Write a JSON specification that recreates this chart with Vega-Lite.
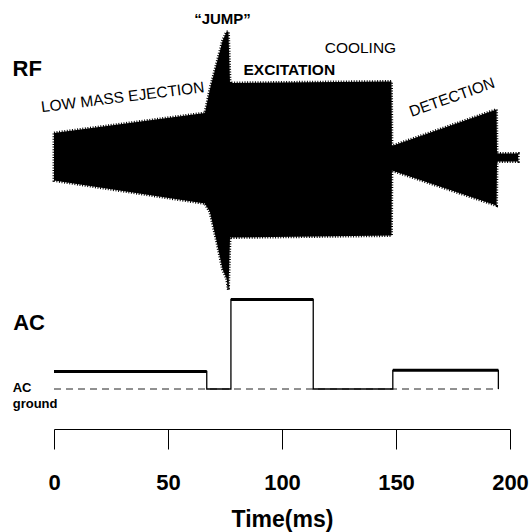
{
  "$schema": "https://vega.github.io/schema/vega-lite/v6.json",
  "width": 456,
  "height": 429,
  "autosize": {"type": "none"},
  "padding": {"left": 54, "top": 0, "right": 21, "bottom": 103},
  "background": "white",
  "config": {
    "view": {"stroke": null},
    "font": "Liberation Sans",
    "axis": {"grid": false},
    "axisX": {
      "domainColor": "black", "domainWidth": 1, "tickColor": "black", "tickSize": 20, "tickWidth": 1,
      "labelFont": "Liberation Sans", "labelFontSize": 22, "labelFontWeight": "bold", "labelColor": "black",
      "labelPadding": 23, "labelFlush": false, "labelOverlap": false,
      "titleFont": "Liberation Sans", "titleFontSize": 23, "titleFontWeight": "bold", "titleColor": "black",
      "titleBaseline": "alphabetic", "titleY": 97, "titlePadding": 0
    }
  },
  "resolve": {"scale": {"y": "independent"}},
  "layer": [
    {
      "layer": [
        {
          "data": {"values": [
            {"t": 0, "hi": 2.55, "lo": -2.2},
            {"t": 66.2, "hi": 4.55, "lo": -4.5},
            {"t": 68.4, "hi": 6.95, "lo": -5.35},
            {"t": 71.4, "hi": 9.55, "lo": -8.35},
            {"t": 73.9, "hi": 11.75, "lo": -11.05},
            {"t": 75.7, "hi": 12.68, "lo": -12.0},
            {"t": 76.5, "hi": 12.68, "lo": -13.15},
            {"t": 77.2, "hi": 7.55, "lo": -7.9},
            {"t": 148.0, "hi": 7.7, "lo": -7.7},
            {"t": 148.2, "hi": 1.25, "lo": -1.2},
            {"t": 194.1, "hi": 4.9, "lo": -4.7},
            {"t": 194.3, "hi": 0.5, "lo": -0.3},
            {"t": 203.6, "hi": 0.5, "lo": -0.3}
          ]},
          "mark": {"type": "area", "color": "black", "opacity": 1, "interpolate": "linear", "stroke": "black", "strokeWidth": 3, "strokeDash": [1, 1.6]},
          "encoding": {
            "x": {"field": "t", "type": "quantitative", "scale": {"domain": [0, 200], "nice": false}, "axis": {"values": [0, 50, 100, 150, 200], "title": "Time(ms)"}},
            "y": {"field": "hi", "type": "quantitative", "scale": {"domain": [-27.05, 15.85], "nice": false, "zero": false}, "axis": null},
            "y2": {"field": "lo"}
          }
        },
        {
          "data": {"values": [{"t": -11.75, "amp": 8.21, "label": "RF"}]},
          "mark": {"type": "text", "font": "Liberation Sans", "fontSize": 22, "fontWeight": "bold", "align": "center", "baseline": "alphabetic", "color": "black"},
          "encoding": {
            "x": {"field": "t", "type": "quantitative", "scale": {"domain": [0, 200], "nice": false}, "axis": {"values": [0, 50, 100, 150, 200], "title": "Time(ms)"}},
            "y": {"field": "amp", "type": "quantitative", "scale": {"domain": [-27.05, 15.85], "nice": false, "zero": false}, "axis": null},
            "text": {"field": "label"}
          }
        },
        {
          "data": {"values": [{"t": 73.9, "amp": 13.45, "label": "“JUMP”"}]},
          "mark": {"type": "text", "font": "Liberation Sans", "fontSize": 15, "fontWeight": "bold", "align": "center", "baseline": "alphabetic", "color": "black"},
          "encoding": {
            "x": {"field": "t", "type": "quantitative", "scale": {"domain": [0, 200], "nice": false}, "axis": {"values": [0, 50, 100, 150, 200], "title": "Time(ms)"}},
            "y": {"field": "amp", "type": "quantitative", "scale": {"domain": [-27.05, 15.85], "nice": false, "zero": false}, "axis": null},
            "text": {"field": "label"}
          }
        },
        {
          "data": {"values": [{"t": 103.2, "amp": 8.35, "label": "EXCITATION"}]},
          "mark": {"type": "text", "font": "Liberation Sans", "fontSize": 15.5, "fontWeight": "bold", "align": "center", "baseline": "alphabetic", "color": "black"},
          "encoding": {
            "x": {"field": "t", "type": "quantitative", "scale": {"domain": [0, 200], "nice": false}, "axis": {"values": [0, 50, 100, 150, 200], "title": "Time(ms)"}},
            "y": {"field": "amp", "type": "quantitative", "scale": {"domain": [-27.05, 15.85], "nice": false, "zero": false}, "axis": null},
            "text": {"field": "label"}
          }
        },
        {
          "data": {"values": [{"t": 134.4, "amp": 10.52, "label": "COOLING"}]},
          "mark": {"type": "text", "font": "Liberation Sans", "fontSize": 15.5, "fontWeight": "normal", "align": "center", "baseline": "alphabetic", "color": "black"},
          "encoding": {
            "x": {"field": "t", "type": "quantitative", "scale": {"domain": [0, 200], "nice": false}, "axis": {"values": [0, 50, 100, 150, 200], "title": "Time(ms)"}},
            "y": {"field": "amp", "type": "quantitative", "scale": {"domain": [-27.05, 15.85], "nice": false, "zero": false}, "axis": null},
            "text": {"field": "label"}
          }
        },
        {
          "data": {"values": [{"t": 30.4, "amp": 5.63, "label": "LOW MASS EJECTION"}]},
          "mark": {"type": "text", "font": "Liberation Sans", "fontSize": 15.5, "fontWeight": "normal", "align": "center", "baseline": "alphabetic", "angle": -7, "color": "black"},
          "encoding": {
            "x": {"field": "t", "type": "quantitative", "scale": {"domain": [0, 200], "nice": false}, "axis": {"values": [0, 50, 100, 150, 200], "title": "Time(ms)"}},
            "y": {"field": "amp", "type": "quantitative", "scale": {"domain": [-27.05, 15.85], "nice": false, "zero": false}, "axis": null},
            "text": {"field": "label"}
          }
        },
        {
          "data": {"values": [{"t": 175.3, "amp": 5.65, "label": "DETECTION"}]},
          "mark": {"type": "text", "font": "Liberation Sans", "fontSize": 15.5, "fontWeight": "normal", "align": "center", "baseline": "alphabetic", "angle": -19.5, "color": "black"},
          "encoding": {
            "x": {"field": "t", "type": "quantitative", "scale": {"domain": [0, 200], "nice": false}, "axis": {"values": [0, 50, 100, 150, 200], "title": "Time(ms)"}},
            "y": {"field": "amp", "type": "quantitative", "scale": {"domain": [-27.05, 15.85], "nice": false, "zero": false}, "axis": null},
            "text": {"field": "label"}
          }
        }
      ]
    },
    {
      "data": {"values": [
        {"t": 0, "v": 1.75},
        {"t": 67.0, "v": 0},
        {"t": 77.6, "v": 8.95},
        {"t": 113.7, "v": 0},
        {"t": 148.6, "v": 1.87},
        {"t": 194.9, "v": 0}
      ]},
      "layer": [
        {
          "mark": {"type": "rule", "color": "#222222", "strokeWidth": 1, "strokeDash": [7, 5]},
          "encoding": {
            "x": {"aggregate": "min", "field": "t", "type": "quantitative", "scale": {"domain": [0, 200], "nice": false}, "axis": {"values": [0, 50, 100, 150, 200], "title": "Time(ms)"}},
            "x2": {"aggregate": "max", "field": "t"},
            "y": {"datum": 0, "type": "quantitative", "scale": {"domain": [-4.0, 38.9], "nice": false, "zero": false}, "axis": null}
          }
        },
        {
          "mark": {"type": "line", "interpolate": "step-after", "color": "black", "strokeWidth": 1.3},
          "encoding": {
            "x": {"field": "t", "type": "quantitative", "scale": {"domain": [0, 200], "nice": false}, "axis": {"values": [0, 50, 100, 150, 200], "title": "Time(ms)"}},
            "y": {"field": "v", "type": "quantitative", "scale": {"domain": [-4.0, 38.9], "nice": false, "zero": false}, "axis": null}
          }
        },
        {
          "transform": [
            {"window": [{"op": "lead", "field": "t", "as": "end"}], "sort": [{"field": "t", "order": "ascending"}]},
            {"filter": "datum.v > 0"}
          ],
          "mark": {"type": "rule", "color": "black", "strokeWidth": 3},
          "encoding": {
            "x": {"field": "t", "type": "quantitative", "scale": {"domain": [0, 200], "nice": false}, "axis": {"values": [0, 50, 100, 150, 200], "title": "Time(ms)"}},
            "x2": {"field": "end"},
            "y": {"field": "v", "type": "quantitative", "scale": {"domain": [-4.0, 38.9], "nice": false, "zero": false}, "axis": null}
          }
        },
        {
          "data": {"values": [{"t": -10.95, "v": 5.9, "label": "AC"}]},
          "mark": {"type": "text", "font": "Liberation Sans", "fontSize": 22, "fontWeight": "bold", "align": "center", "baseline": "alphabetic", "color": "black"},
          "encoding": {
            "x": {"field": "t", "type": "quantitative", "scale": {"domain": [0, 200], "nice": false}, "axis": {"values": [0, 50, 100, 150, 200], "title": "Time(ms)"}},
            "y": {"field": "v", "type": "quantitative", "scale": {"domain": [-4.0, 38.9], "nice": false, "zero": false}, "axis": null},
            "text": {"field": "label"}
          }
        },
        {
          "data": {"values": [{"t": -18.1, "v": -0.33, "label": "AC\nground"}]},
          "mark": {"type": "text", "font": "Liberation Sans", "fontSize": 13, "fontWeight": "bold", "align": "left", "baseline": "alphabetic", "lineBreak": "\n", "lineHeight": 16, "color": "black"},
          "encoding": {
            "x": {"field": "t", "type": "quantitative", "scale": {"domain": [0, 200], "nice": false}, "axis": {"values": [0, 50, 100, 150, 200], "title": "Time(ms)"}},
            "y": {"field": "v", "type": "quantitative", "scale": {"domain": [-4.0, 38.9], "nice": false, "zero": false}, "axis": null},
            "text": {"field": "label"}
          }
        }
      ]
    }
  ]
}
